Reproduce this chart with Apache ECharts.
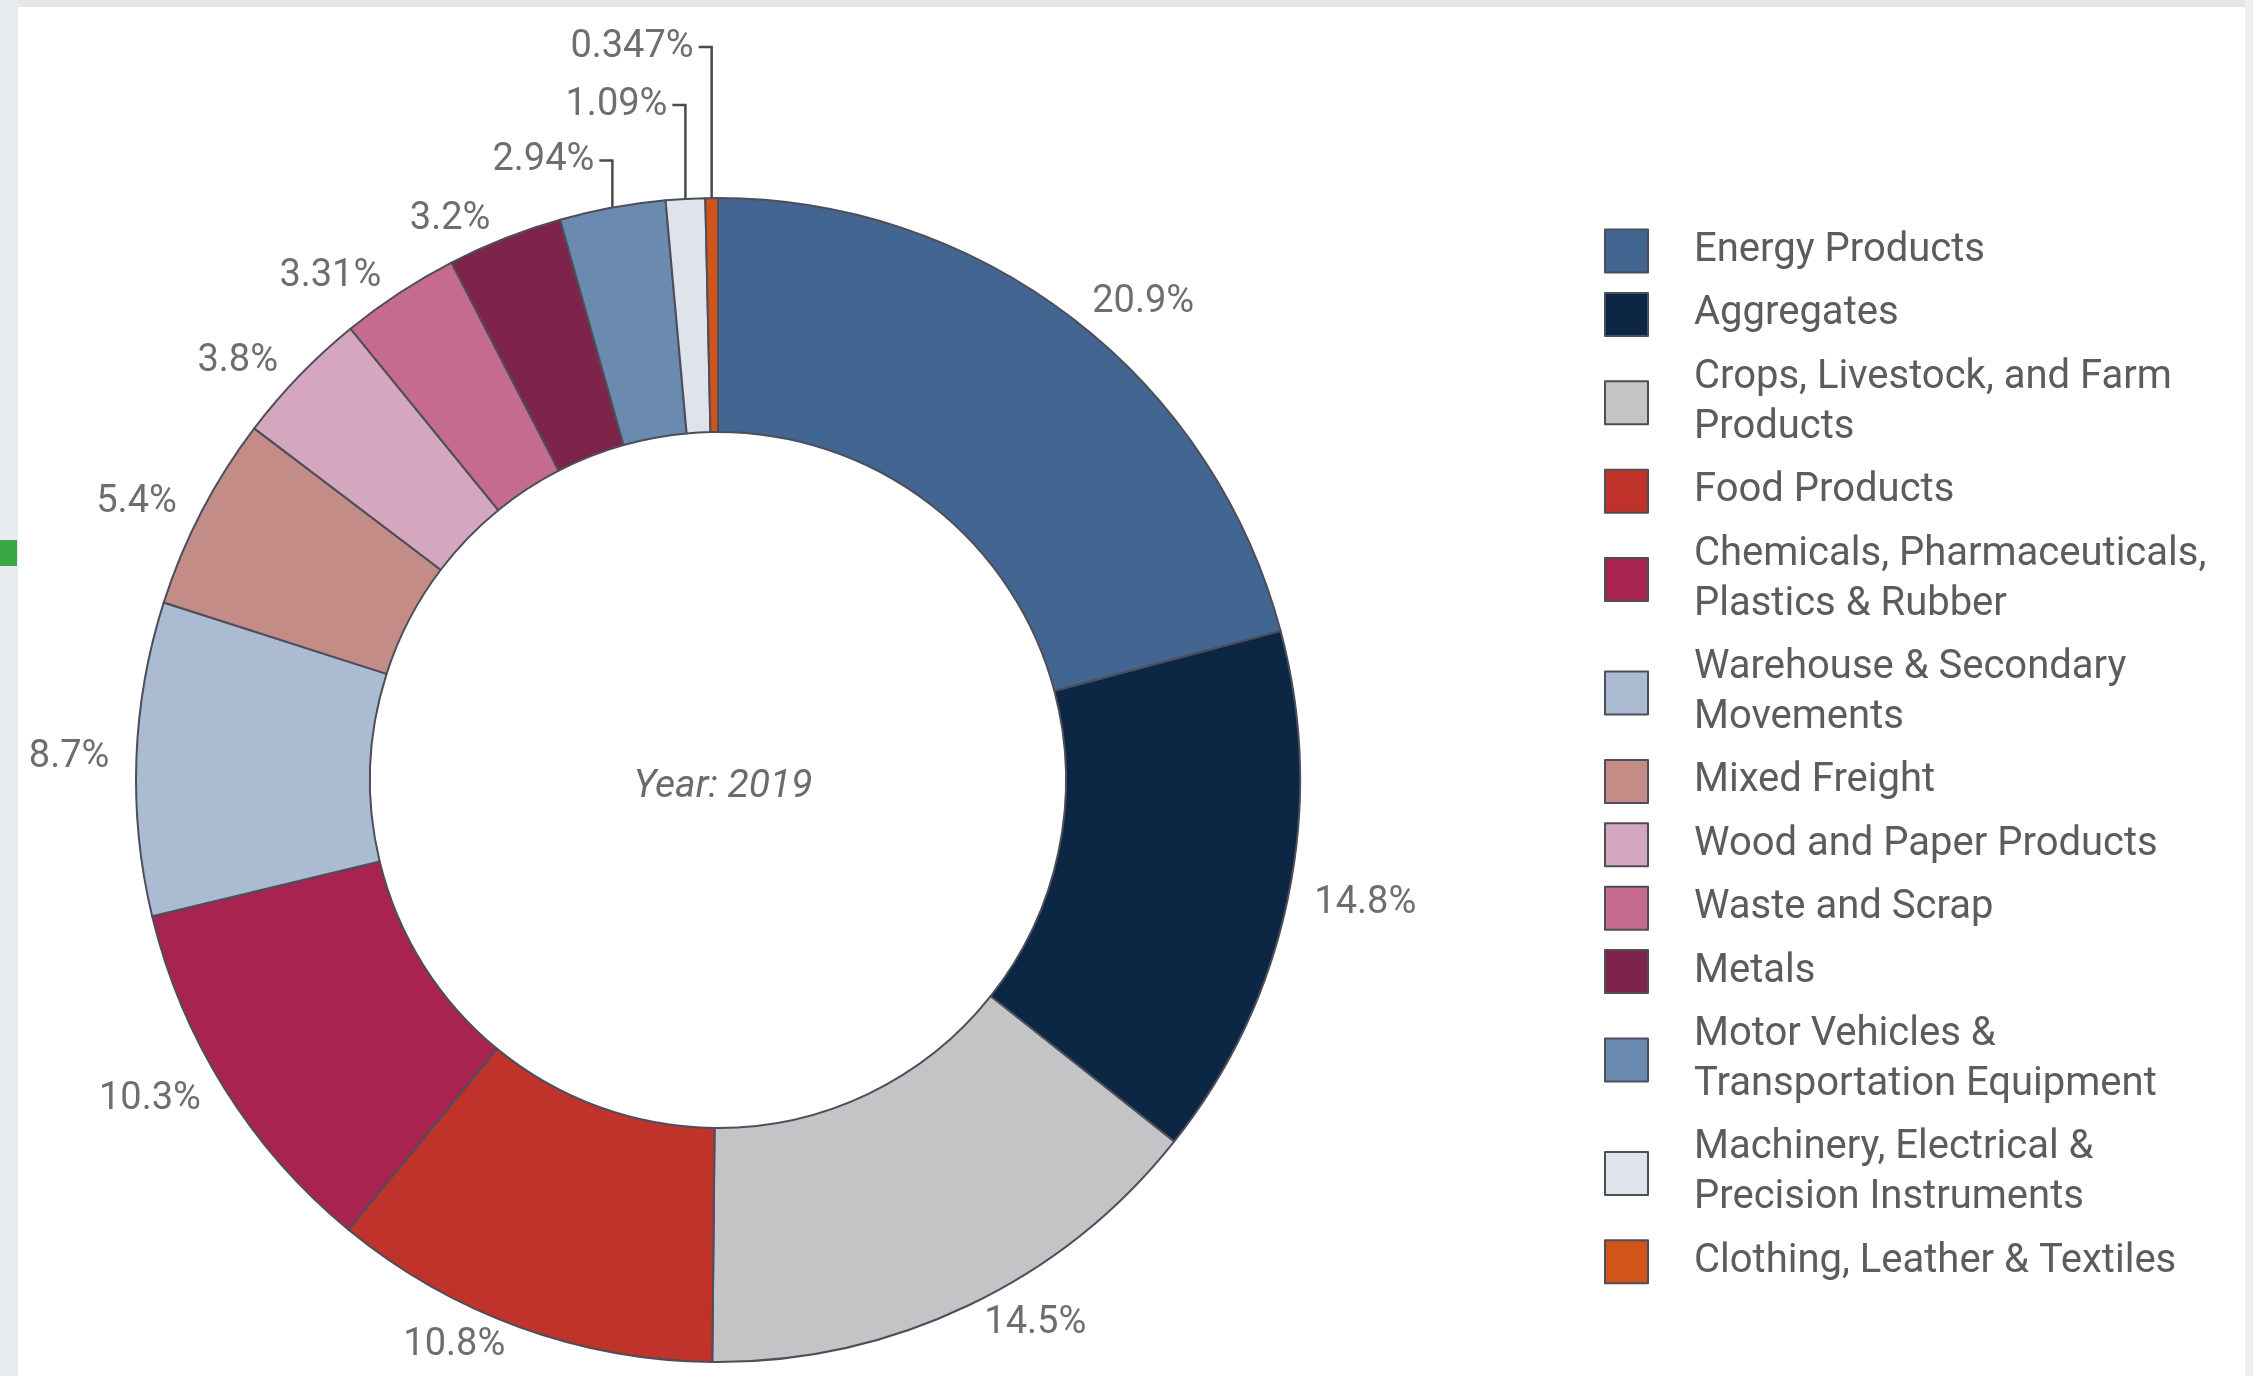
<!DOCTYPE html>
<html>
<head>
<meta charset="utf-8">
<title>Freight by commodity, 2019</title>
<script src="https://cdn.jsdelivr.net/npm/echarts@6/dist/echarts.min.js"></script>
<style>
  html, body { margin: 0; padding: 0; background: #ffffff; }
  #chart { width: 2253px; height: 1376px; }
</style>
</head>
<body>
<div id="chart"></div>
<script>
// Commodity groups, clockwise from 12 o'clock
const categories = [
  'Energy Products',
  'Aggregates',
  'Crops, Livestock, and Farm Products',
  'Food Products',
  'Chemicals, Pharmaceuticals, Plastics & Rubber',
  'Warehouse & Secondary Movements',
  'Mixed Freight',
  'Wood and Paper Products',
  'Waste and Scrap',
  'Metals',
  'Motor Vehicles & Transportation Equipment',
  'Machinery, Electrical & Precision Instruments',
  'Clothing, Leather & Textiles'
];

// Share of total (%)
const shares = [20.9, 14.8, 14.5, 10.8, 10.3, 8.7, 5.4, 3.8, 3.31, 3.2, 2.94, 1.09, 0.347];

const colors = [
  '#426592', '#0c2743', '#c4c4c6', '#c0332b', '#a92350', '#aabbd2', '#c38c87',
  '#d4a7bf', '#c56b8d', '#7e234b', '#6a8ab0', '#dfe4ec', '#d1541a'
];

const centerText = 'Year: 2019';

// Two-line legend entries
const legendWrap = {
  'Crops, Livestock, and Farm Products': 'Crops, Livestock, and Farm\nProducts',
  'Chemicals, Pharmaceuticals, Plastics & Rubber': 'Chemicals, Pharmaceuticals,\nPlastics & Rubber',
  'Warehouse & Secondary Movements': 'Warehouse & Secondary\nMovements',
  'Motor Vehicles & Transportation Equipment': 'Motor Vehicles &\nTransportation Equipment',
  'Machinery, Electrical & Precision Instruments': 'Machinery, Electrical &\nPrecision Instruments'
};

// Thin slices at the top get elbow leaders, stacked upward
const leaderLength = { 10: 48, 11: 94, 12: 151 };
const leaderTail = 13;

const chart = echarts.init(document.getElementById('chart'), null, { renderer: 'canvas' });

const pieData = categories.map((name, i) => {
  const item = { name: name, value: shares[i], itemStyle: { color: colors[i] } };
  if (leaderLength[i] != null) {
    item.labelLine = { show: true, length: leaderLength[i], length2: leaderTail };
  }
  return item;
});

const option = {
  backgroundColor: '#ffffff',
  animation: false,
  title: {
    text: centerText,
    left: 718,
    top: 782,
    textAlign: 'center',
    textVerticalAlign: 'middle',
    textStyle: {
      fontFamily: 'Roboto',
      fontStyle: 'italic',
      fontWeight: 'normal',
      fontSize: 39,
      color: '#6b6b6b'
    }
  },
  graphic: [
    { type: 'rect', z: -10, silent: true, shape: { x: 0, y: 0, width: 2253, height: 7 }, style: { fill: '#e4e6e8' } },
    { type: 'rect', z: -10, silent: true, shape: { x: 0, y: 0, width: 18, height: 1376 }, style: { fill: '#e8ecf1' } },
    { type: 'rect', z: -10, silent: true, shape: { x: 2245, y: 0, width: 8, height: 1376 }, style: { fill: '#edf0f3' } },
    { type: 'rect', z: -9, silent: true, shape: { x: 0, y: 540, width: 17, height: 26 }, style: { fill: '#3aa845' } }
  ],
  legend: {
    orient: 'vertical',
    left: 1604,
    top: 226,
    padding: 0,
    itemWidth: 43,
    itemHeight: 43,
    itemGap: 13.4,
    icon: 'rect',
    selectedMode: false,
    formatter: name => legendWrap[name] || name,
    textStyle: {
      fontFamily: 'Roboto',
      fontSize: 40,
      lineHeight: 50,
      color: '#5c5c5c',
      padding: [0, 0, 0, 41]
    },
    data: categories
  },
  series: [{
    type: 'pie',
    center: [718, 780],
    radius: [348, 582],
    startAngle: 90,
    clockwise: true,
    avoidLabelOverlap: false,
    data: pieData,
    itemStyle: {
      borderColor: '#4e4e5a',
      borderWidth: 2
    },
    emphasis: { disabled: true },
    label: {
      show: true,
      position: 'outside',
      formatter: p => p.value + '%',
      fontFamily: 'Roboto',
      fontSize: 38,
      color: '#6e6e6e',
      padding: [10, 0, 0, 0],
      distanceToLabelLine: 5
    },
    labelLine: {
      show: false,
      length: 20,
      length2: 2,
      lineStyle: { color: '#4a4a4a', width: 2.5 }
    },
    labelLayout: function (params) {
      if (leaderLength[params.dataIndex] == null) return {};
      const pts = params.labelLinePoints;
      if (!pts || pts.length < 2) return {};
      const x0 = pts[0][0], y0 = pts[0][1];
      const yTop = pts[1][1];
      const xEnd = x0 - leaderTail;
      return {
        x: xEnd - 5,
        y: yTop,
        align: 'right',
        verticalAlign: 'middle',
        labelLinePoints: [[x0, y0], [x0, yTop], [xEnd, yTop]]
      };
    }
  }]
};

chart.setOption(option);
</script>
</body>
</html>
